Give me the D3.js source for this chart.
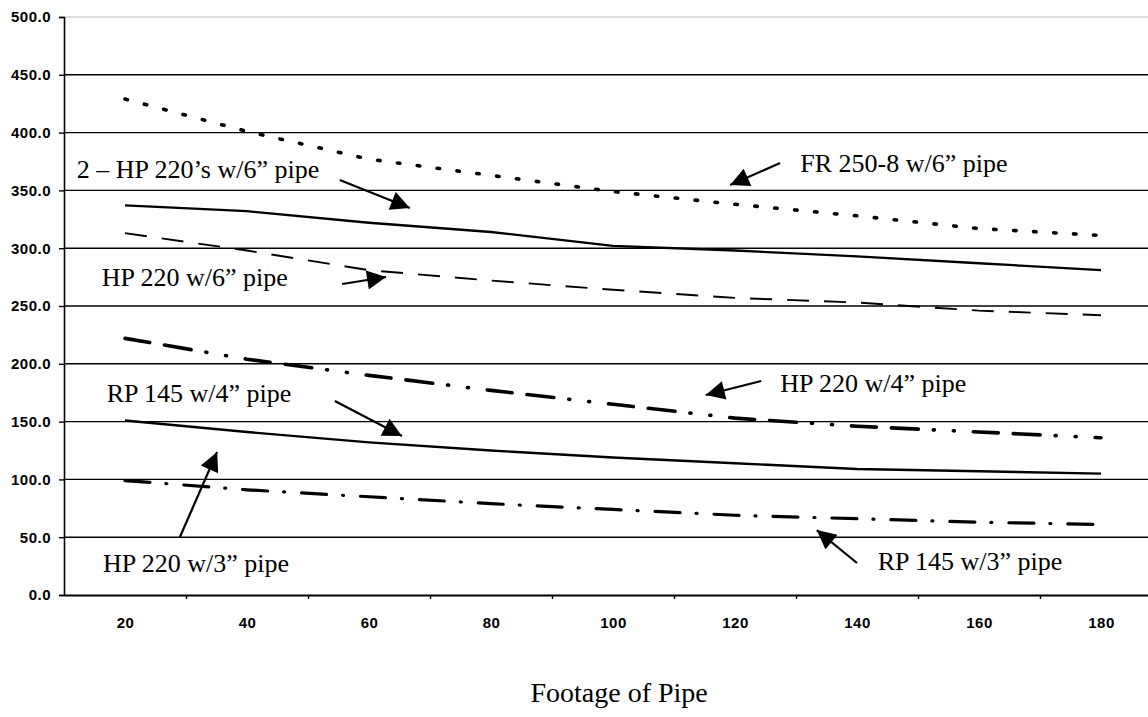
<!DOCTYPE html>
<html>
<head>
<meta charset="utf-8">
<script src="https://cdn.jsdelivr.net/npm/d3@7"></script>
<style>
  html, body { margin: 0; padding: 0; background: #fff; }
  svg { display: block; }
</style>
</head>
<body>
<svg id="chart"></svg>
<script>
const footage = [20, 40, 60, 80, 100, 120, 140, 160, 180]
const yTicks = [0, 50, 100, 150, 200, 250, 300, 350, 400, 450, 500]

const fr250w6 = [429, 401, 377, 363, 349, 338, 328, 317, 311]
const twoHp220w6 = [337, 332, 322, 314, 302, 298, 293, 287, 281]
const hp220w6 = [313, 298, 281, 272, 264, 257, 253, 246, 242]
const hp220w4 = [222, 204, 190, 177, 165, 153, 146, 141, 136]
const rp145w4 = [151, 141, 132, 125, 119, 114, 109, 107, 105]
const rp145w3 = [99, 91, 85, 79, 74, 69, 66, 63, 61]

// callouts: label anchor and arrow tail -> tip, in data units (footage, value)
const callouts = [
  { text: '2 \u2013 HP 220\u2019s w/6\u201d pipe', tx: 12.1, ty: 361, from: [55.2, 359], to: [66.7, 334.8] },
  { text: 'FR 250-8 w/6\u201d pipe', tx: 130.7, ty: 366, from: [127.4, 373.7], to: [119.2, 354.7] },
  { text: 'HP 220 w/6\u201d pipe', tx: 16.2, ty: 267, from: [55.6, 269], to: [62.8, 275.1] },
  { text: 'HP 220 w/4\u201d pipe', tx: 127.4, ty: 175.6, from: [124.3, 185.1], to: [115.2, 173] },
  { text: 'RP 145 w/4\u201d pipe', tx: 17, ty: 167, from: [54.4, 167.8], to: [65.4, 137.5] },
  { text: 'HP 220 w/3\u201d pipe', tx: 16.4, ty: 20, from: [29, 50.2], to: [35.1, 123.7] },
  { text: 'RP 145 w/3\u201d pipe', tx: 143.4, ty: 21.6, from: [140, 27.7], to: [133.4, 56.2] }
]

const width = 1148
const height = 717
const margin = { top: 17, right: 0, bottom: 122, left: 64 }

const svg = d3.select('#chart')
  .attr('width', width)
  .attr('height', height)

// categories sit in 20 ft bands, axis starts at 10
const x = d3.scaleLinear()
  .domain([10, 190])
  .range([margin.left, margin.left + 9 * 122])

const y = d3.scaleLinear()
  .domain([0, 500])
  .range([height - margin.bottom, margin.top])

// Gridlines
svg.append('g')
  .selectAll('line')
  .data(yTicks.filter(d => d > 0))
  .enter().append('line')
  .attr('x1', margin.left)
  .attr('x2', width)
  .attr('y1', d => y(d))
  .attr('y2', d => y(d))
  .attr('stroke', d => d === 500 ? '#d4d4d4' : '#000')
  .attr('stroke-width', 1.4)

// Y axis
const yAxis = svg.append('g')
  .attr('transform', `translate(${margin.left},0)`)
  .call(d3.axisLeft(y).tickValues(yTicks).tickFormat(d3.format('.1f')).tickSize(5).tickPadding(8))
yAxis.select('.domain').attr('stroke', '#000').attr('stroke-width', 1.6)
yAxis.selectAll('.tick line').attr('stroke', '#000').attr('stroke-width', 1.4)
yAxis.selectAll('text')
  .attr('font-family', 'Liberation Sans, Arial, sans-serif')
  .attr('font-weight', 'bold')
  .attr('font-size', '15px')
  .attr('letter-spacing', '0.5px')
  .attr('fill', '#000')

// X axis: boundary ticks + centred labels
const xAxis = svg.append('g')
  .attr('transform', `translate(0,${y(0)})`)
  .call(d3.axisBottom(x).tickValues(footage.map(d => d + 10)).tickFormat('').tickSize(4).tickSizeOuter(0))
xAxis.select('.domain').attr('stroke', '#000').attr('stroke-width', 1.8)
xAxis.selectAll('.tick line').attr('stroke', '#000').attr('stroke-width', 1.4)

const xLabels = svg.append('g')
  .attr('transform', `translate(0,${y(0)})`)
  .call(d3.axisBottom(x).tickValues(footage).tickSize(0).tickPadding(22))
xLabels.select('.domain').remove()
xLabels.selectAll('text')
  .attr('font-family', 'Liberation Sans, Arial, sans-serif')
  .attr('font-weight', 'bold')
  .attr('font-size', '15px')
  .attr('letter-spacing', '0.5px')
  .attr('fill', '#000')

svg.append('text')
  .attr('x', x(101))
  .attr('y', 702)
  .attr('text-anchor', 'middle')
  .attr('font-family', 'Liberation Serif, Times New Roman, serif')
  .attr('font-size', '28px')
  .attr('fill', '#000')
  .text('Footage of Pipe')

// Series
const series = [
  { values: fr250w6, width: 3.6, dash: '2.5 17.5', cap: 'round' },
  { values: twoHp220w6, width: 2.3, dash: null, cap: 'butt' },
  { values: hp220w6, width: 1.9, dash: '22 15', cap: 'butt' },
  { values: hp220w4, width: 3.6, dash: '25 15 27 15 1 19 1 19', cap: 'round' },
  { values: rp145w4, width: 2.4, dash: null, cap: 'butt' },
  { values: rp145w3, width: 3.2, dash: '25 16 1 17', cap: 'round' }
]

const line = d3.line()
  .x((d, i) => x(footage[i]))
  .y(d => y(d))

svg.append('g')
  .selectAll('path')
  .data(series)
  .enter().append('path')
  .attr('d', d => line(d.values))
  .attr('fill', 'none')
  .attr('stroke', '#000')
  .attr('stroke-width', d => d.width)
  .attr('stroke-dasharray', d => d.dash)
  .attr('stroke-linecap', d => d.cap)

// Callout arrows
svg.append('defs').append('marker')
  .attr('id', 'head')
  .attr('viewBox', '0 0 10 10')
  .attr('refX', 10)
  .attr('refY', 5)
  .attr('markerUnits', 'userSpaceOnUse')
  .attr('markerWidth', 24)
  .attr('markerHeight', 19)
  .attr('orient', 'auto')
  .append('path')
  .attr('d', 'M0,0L10,5L0,10Z')
  .attr('fill', '#000')

const notes = svg.append('g')
notes.selectAll('line')
  .data(callouts)
  .enter().append('line')
  .attr('x1', d => x(d.from[0]))
  .attr('y1', d => y(d.from[1]))
  .attr('x2', d => x(d.to[0]))
  .attr('y2', d => y(d.to[1]))
  .attr('stroke', '#000')
  .attr('stroke-width', 2.2)
  .attr('marker-end', 'url(#head)')

notes.selectAll('text')
  .data(callouts)
  .enter().append('text')
  .attr('x', d => x(d.tx))
  .attr('y', d => y(d.ty))
  .attr('font-family', 'Liberation Serif, Times New Roman, serif')
  .attr('font-size', '26px')
  .attr('fill', '#000')
  .text(d => d.text)
</script>
</body>
</html>
